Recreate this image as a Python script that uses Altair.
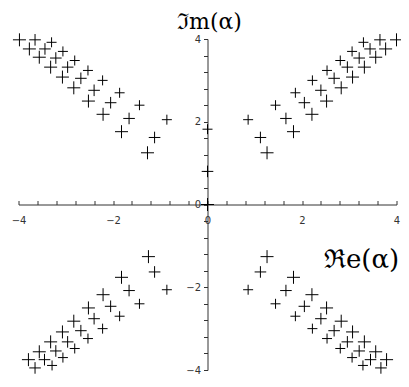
import altair as alt
import pandas as pd

# ---- data (Re, Im) ----
# upper-right quadrant
ur_large_x = [1.26, 1.82, 2.21, 2.52, 2.83, 3.07, 3.32, 3.56, 3.77, 4.00]
ur_large_y = [1.25, 1.76, 2.18, 2.50, 2.82, 3.08, 3.32, 3.56, 3.76, 3.98]
ur_med_x = [1.12, 1.66, 2.05, 2.40, 2.68, 2.96, 3.21, 3.44, 3.65]
ur_med_y = [1.62, 2.08, 2.46, 2.76, 3.05, 3.32, 3.54, 3.76, 3.98]
ur_small_x = [0.86, 1.44, 1.86, 2.22, 2.53, 2.81, 3.06, 3.30]
ur_small_y = [2.05, 2.40, 2.70, 3.00, 3.24, 3.48, 3.70, 3.92]

# upper-left quadrant
ul_large_x = [-1.27, -1.82, -2.21, -2.52, -2.83, -3.07, -3.32, -3.56, -3.77, -3.98]
ul_large_y = [1.25, 1.76, 2.18, 2.50, 2.82, 3.08, 3.32, 3.56, 3.76, 3.98]
ul_med_x = [-1.12, -1.66, -2.05, -2.40, -2.68, -2.96, -3.21, -3.44, -3.65]
ul_med_y = [1.62, 2.08, 2.46, 2.76, 3.05, 3.32, 3.54, 3.76, 3.98]
ul_small_x = [-0.86, -1.44, -1.86, -2.22, -2.53, -2.81, -3.06, -3.30]
ul_small_y = [2.05, 2.40, 2.70, 3.00, 3.24, 3.48, 3.70, 3.92]

# lower-right quadrant
lr_large_x = [1.26, 1.82, 2.21, 2.52, 2.83, 3.07, 3.32, 3.56, 3.79]
lr_large_y = [-1.26, -1.76, -2.18, -2.50, -2.82, -3.08, -3.32, -3.56, -3.75]
lr_med_x = [1.12, 1.66, 2.05, 2.40, 2.68, 2.96, 3.21, 3.45, 3.67]
lr_med_y = [-1.63, -2.08, -2.46, -2.76, -3.05, -3.32, -3.54, -3.75, -3.95]
lr_small_x = [0.86, 1.44, 1.86, 2.22, 2.53, 2.81, 3.06, 3.29]
lr_small_y = [-2.06, -2.40, -2.70, -3.00, -3.24, -3.48, -3.70, -3.89]

# lower-left quadrant
ll_large_x = [-1.25, -1.82, -2.21, -2.52, -2.83, -3.07, -3.32, -3.56, -3.79]
ll_large_y = [-1.26, -1.76, -2.18, -2.50, -2.82, -3.08, -3.32, -3.56, -3.75]
ll_med_x = [-1.12, -1.66, -2.05, -2.40, -2.68, -2.96, -3.21, -3.45, -3.65]
ll_med_y = [-1.63, -2.08, -2.46, -2.76, -3.05, -3.32, -3.54, -3.75, -3.95]
ll_small_x = [-0.86, -1.44, -1.86, -2.22, -2.53, -2.81, -3.06, -3.29]
ll_small_y = [-2.06, -2.40, -2.70, -3.00, -3.24, -3.48, -3.70, -3.89]

# points on the imaginary axis
axis_x = [0.0, 0.0, 0.0]
axis_y = [0.0, 0.80, 1.82]
axis_series = ["large", "medium", "small"]

tick_values = [-4.0, -3.6, -3.2, -2.8, -2.4, -2.0, -1.6, -1.2, -0.8, -0.4, 0.0,
               0.4, 0.8, 1.2, 1.6, 2.0, 2.4, 2.8, 3.2, 3.6, 4.0]

im_label = "ℑm(α)"
re_label = "ℜe(α)"

# ---- build table ----
rows = []
def add(xs, ys, s):
    for a, b in zip(xs, ys):
        rows.append({"re": a, "im": b, "series": s})

add(ur_large_x, ur_large_y, "large"); add(ur_med_x, ur_med_y, "medium"); add(ur_small_x, ur_small_y, "small")
add(ul_large_x, ul_large_y, "large"); add(ul_med_x, ul_med_y, "medium"); add(ul_small_x, ul_small_y, "small")
add(lr_large_x, lr_large_y, "large"); add(lr_med_x, lr_med_y, "medium"); add(lr_small_x, lr_small_y, "small")
add(ll_large_x, ll_large_y, "large"); add(ll_med_x, ll_med_y, "medium"); add(ll_small_x, ll_small_y, "small")
for a, b, s in zip(axis_x, axis_y, axis_series):
    rows.append({"re": a, "im": b, "series": s})
df = pd.DataFrame(rows)

W = 378
H = 331

label_expr = "abs(datum.value - round(datum.value / 2) * 2) < 0.01 ? format(datum.value, 'd') : ''"

xaxis = alt.Axis(orient="top", offset=-H / 2, values=tick_values, tickSize=4,
                 labelExpr=label_expr, labelBaseline="top", labelPadding=-15,
                 labelOverlap=False, labelFont="DejaVu Sans", labelFontSize=10,
                 labelColor="#333", grid=False, title=None, domainColor="#333",
                 tickColor="#333", labelFlush=False)
yaxis = alt.Axis(orient="left", offset=-W / 2, values=tick_values, tickSize=4,
                 labelExpr=label_expr, labelPadding=3, labelOverlap=False,
                 labelFont="DejaVu Sans", labelFontSize=10, labelColor="#333",
                 grid=False, title=None, domainColor="#333", tickColor="#333",
                 labelFlush=False)

cross = "M-1,0L1,0M0,-1L0,1"

points = alt.Chart(df).mark_point(shape=cross, filled=False, color="black",
                                  strokeWidth=1, opacity=1).encode(
    x=alt.X("re:Q", scale=alt.Scale(domain=[-4, 4], nice=False, zero=False), axis=xaxis),
    y=alt.Y("im:Q", scale=alt.Scale(domain=[-4, 4], nice=False, zero=False), axis=yaxis),
    size=alt.Size("series:N", scale=alt.Scale(domain=["large", "medium", "small"],
                                              range=[169, 100, 49]), legend=None),
)

lab_df = pd.DataFrame({"t": [im_label]})
im_text = alt.Chart(lab_df).mark_text(font="DejaVu Serif", fontSize=22,
                                      color="black", align="center", baseline="middle").encode(
    x=alt.value(191), y=alt.value(-17), text="t:N")

re_df = pd.DataFrame({"t": [re_label]})
re_text = alt.Chart(re_df).mark_text(font="DejaVu Serif", fontSize=26,
                                     color="black", align="center", baseline="middle").encode(
    x=alt.value(343), y=alt.value(221), text="t:N")

chart = alt.layer(points, im_text, re_text).properties(
    width=W, height=H,
    autosize=alt.AutoSizeParams(type="none"),
    padding={"left": 10.5, "top": 31, "right": 4.5, "bottom": 8},
).configure_view(stroke=None)

chart.save("out.html", embed_options={"renderer": "svg", "actions": False})
